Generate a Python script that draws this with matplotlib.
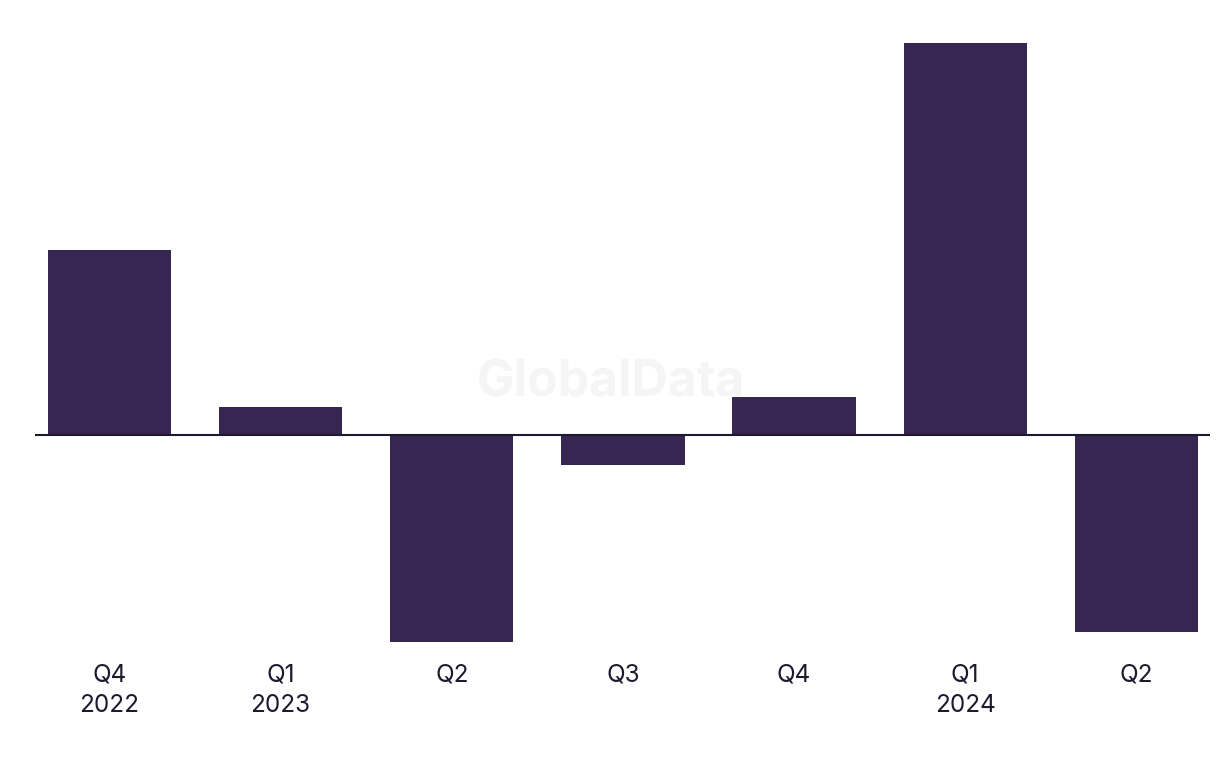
import matplotlib
matplotlib.use("Agg")
import matplotlib.pyplot as plt

# Quarter labels and values (no axis scale shown)
quarters = ["Q4\n2022", "Q1\n2023", "Q2", "Q3", "Q4", "Q1\n2024", "Q2"]
values = [1.85, 0.28, -2.07, -0.30, 0.38, 3.92, -1.97]

bar_color = "#372552"
text_color = "#1c1a2e"

plt.rcParams['font.family'] = ['Inter', 'DejaVu Sans']

fig = plt.figure(figsize=(12.2, 7.68), dpi=100)
ax = fig.add_axes([0.0287, 0.1536, 0.9631, 0.8073])

x = list(range(len(quarters)))
ax.bar(x, values, width=0.72, color=bar_color, zorder=2)
ax.axhline(0, color=text_color, linewidth=1.5, zorder=3)

# watermark
ax.text(0.49, 0.43, "GlobalData", transform=ax.transAxes, ha="center", va="center",
        fontsize=36, fontweight="bold", color="#f5f5f5", zorder=1)

ax.set_xlim(-0.435, 6.43)
ax.set_ylim(-2.155, 4.045)
ax.set_xticks(x)
ax.set_xticklabels(quarters, fontsize=17.5, color=text_color, linespacing=1.4, va="top")
ax.tick_params(axis="x", length=0, pad=10)
ax.set_yticks([])
for s in ax.spines.values():
    s.set_visible(False)

fig.savefig("out.png", dpi=100, facecolor="white")
